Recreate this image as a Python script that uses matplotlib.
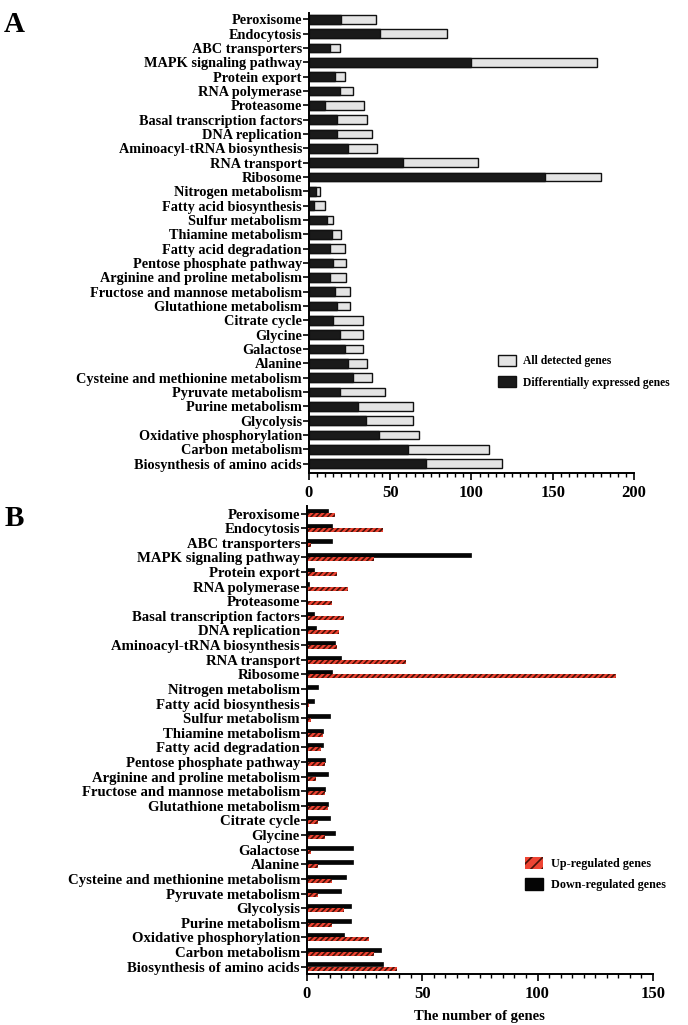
import matplotlib.pyplot as plt
import matplotlib.ticker as mticker
from matplotlib.patches import Patch
import numpy as np

plt.rcParams['font.family'] = ['Liberation Serif', 'DejaVu Serif']
plt.rcParams['font.weight'] = 'bold'
plt.rcParams['hatch.linewidth'] = 1.2

# Panel A data (top to bottom)
pathways_a = ['Peroxisome', 'Endocytosis', 'ABC transporters', 'MAPK signaling pathway',
              'Protein export', 'RNA polymerase', 'Proteasome', 'Basal transcription factors',
              'DNA replication', 'Aminoacyl-tRNA biosynthesis', 'RNA transport', 'Ribosome',
              'Nitrogen metabolism', 'Fatty acid biosynthesis', 'Sulfur metabolism',
              'Thiamine metabolism', 'Fatty acid degradation', 'Pentose phosphate pathway',
              'Arginine and proline metabolism', 'Fructose and mannose metabolism',
              'Glutathione metabolism', 'Citrate cycle', 'Glycine', 'Galactose', 'Alanine',
              'Cysteine and methionine metabolism', 'Pyruvate metabolism', 'Purine metabolism',
              'Glycolysis', 'Oxidative phosphorylation', 'Carbon metabolism',
              'Biosynthesis of amino acids']
all_detected = [41, 85, 19, 177, 22, 27, 34, 36, 39, 42, 104, 180,
                7, 10, 15, 20, 22, 23, 23, 25, 25, 33, 33, 33, 36, 39, 47, 64, 64, 68, 111, 119]
deg = [20, 44, 13, 100, 16, 19, 10, 17, 17, 24, 58, 145,
       4.5, 3, 11, 14, 13, 15, 13, 16, 17, 15, 19, 22, 24, 27, 19, 30, 35, 43, 61, 72]

# Panel B data (top to bottom)
pathways_b = ['Peroxisome', 'Endocytosis', 'ABC transporters', 'MAPK signaling pathway',
              'Protein export', 'RNA polymerase', 'Proteasome', 'Basal transcription factors',
              'DNA replication', 'Aminoacyl-tRNA biosynthesis', 'RNA transport', 'Ribosome',
              'Nitrogen metabolism', 'Fatty acid biosynthesis', 'Sulfur metabolism',
              'Thiamine metabolism', 'Fatty acid degradation', 'Pentose phosphate pathway',
              'Arginine and proline metabolism', 'Fructose and mannose metabolism',
              'Glutathione metabolism', 'Citrate cycle', 'Glycine', 'Galactose', 'Alanine',
              'Cysteine and methionine metabolism', 'Pyruvate metabolism', 'Glycolysis',
              'Purine metabolism', 'Oxidative phosphorylation', 'Carbon metabolism',
              'Biosynthesis of amino acids']
up = [12, 33, 2, 29, 13, 18, 11, 16, 14, 13, 43, 134,
      0, 1, 2, 7, 6, 8, 4, 8, 9, 5, 8, 2, 5, 11, 5, 16, 11, 27, 29, 39]
down = [9, 11, 11, 71, 3, 1, 0, 3, 4, 12, 15, 11,
        5, 3, 10, 7, 7, 8, 9, 8, 9, 10, 12, 20, 20, 17, 15, 19, 19, 16, 32, 33]

fig = plt.figure(figsize=(6.88, 10.25), dpi=100)


def style_axis(ax, labels, xmax, fsize):
    n = len(labels)
    ax.set_yticks(np.arange(n)[::-1])
    ax.set_yticklabels(labels, fontsize=fsize, fontweight='bold')
    ax.set_xlim(0, xmax)
    ax.xaxis.set_major_locator(mticker.MultipleLocator(50))
    ax.xaxis.set_minor_locator(mticker.MultipleLocator(5))
    for s in ['top', 'right']:
        ax.spines[s].set_visible(False)
    for s in ['left', 'bottom']:
        ax.spines[s].set_linewidth(1.4)
    ax.tick_params(axis='y', length=4, width=1.2, pad=1)
    ax.tick_params(axis='x', which='major', length=5, width=1.2, labelsize=12)
    ax.tick_params(axis='x', which='minor', length=3, width=1.0)
    for lbl in ax.get_xticklabels():
        lbl.set_fontweight('bold')


# ---- Panel A ----
ax1 = fig.add_axes([0.449, 0.5385, 0.4725, 0.4488])
ya = np.arange(len(pathways_a))[::-1]
ax1.barh(ya, all_detected, height=0.6, color='#e4e4e4', edgecolor='#111111', linewidth=1.0)
ax1.barh(ya, deg, height=0.6, color='#1a1a1a', edgecolor='#111111', linewidth=1.0)
ax1.set_ylim(-0.65, len(pathways_a) - 0.55)
style_axis(ax1, pathways_a, 200, 10.3)
handles_a = [Patch(facecolor='#e4e4e4', edgecolor='#111111', label='All detected genes'),
             Patch(facecolor='#1a1a1a', edgecolor='#111111', label='Differentially expressed genes')]
ax1.legend(handles=handles_a, loc='upper left', bbox_to_anchor=(0.55, 0.28), frameon=False,
           prop={'size': 8.4, 'weight': 'bold'}, handlelength=1.5, handleheight=1.1,
           labelspacing=0.75, handletextpad=0.6)
fig.text(0.006, 0.976, 'A', fontsize=21, fontweight='bold', va='center')

# ---- Panel B ----
ax2 = fig.add_axes([0.446, 0.0498, 0.503, 0.457])
yb = np.arange(len(pathways_b))[::-1]
h = 0.27
ax2.barh(yb + 0.15, down, height=h, color='#050505', edgecolor='#050505', linewidth=0.5)
ax2.barh(yb - 0.13, up, height=h, color='#ee4433', edgecolor='#4a1208', linewidth=0,
         hatch='//////')
ax2.set_ylim(-0.5, len(pathways_b) - 0.45)
style_axis(ax2, pathways_b, 150, 10.6)
ax2.set_xlabel('The number of genes', fontsize=10.5, fontweight='bold', labelpad=6)
handles_b = [Patch(facecolor='#ee4433', edgecolor='#4a1208', hatch='///', linewidth=0,
                   label='Up-regulated genes'),
             Patch(facecolor='#050505', edgecolor='#050505', label='Down-regulated genes')]
ax2.legend(handles=handles_b, loc='upper left', bbox_to_anchor=(0.6, 0.272), frameon=False,
           prop={'size': 8.7, 'weight': 'bold'}, handlelength=1.5, handleheight=1.1,
           labelspacing=0.65, handletextpad=0.6)
fig.text(0.006, 0.494, 'B', fontsize=21, fontweight='bold', va='center')

fig.savefig('out.png', dpi=100)
